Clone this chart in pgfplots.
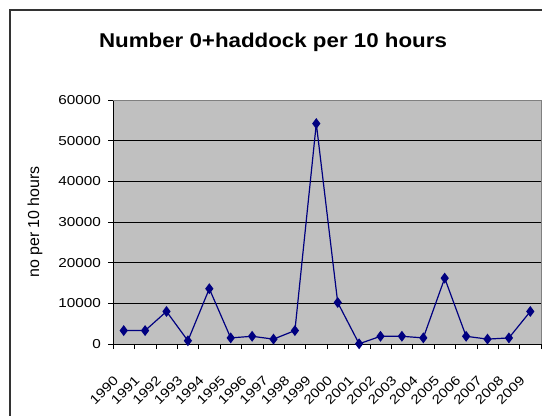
\documentclass[border=0pt]{standalone}
\usepackage{pgfplots}
\pgfplotsset{compat=1.18}
\usepackage{fontspec}
\setmainfont{Liberation Sans}
\definecolor{plotgray}{RGB}{192,192,192}
\definecolor{navyline}{RGB}{0,0,128}
\newcommand{\wx}[1]{\scalebox{1.18}[1]{#1}}
\pgfplotstableread{
x year value
0 1990 3300
1 1991 3300
2 1992 8000
3 1993 800
4 1994 13600
5 1995 1500
6 1996 1900
7 1997 1200
8 1998 3300
9 1999 54200
10 2000 10200
11 2001 50
12 2002 1900
13 2003 1900
14 2004 1500
15 2005 16200
16 2006 1900
17 2007 1200
18 2008 1500
19 2009 8000
}\datatable
\begin{document}
\begin{tikzpicture}[x=1bp,y=1bp]
\useasboundingbox (0,0) rectangle (542,415);
\clip (0,0) rectangle (542,415);
\fill[white] (0,0) rectangle (542,415);
\draw[line width=1.2bp, black!80] (10,-10) rectangle (570,405);
\node[font=\bfseries\fontsize{20}{24}\selectfont] at (273,373) {\scalebox{1.12}[1]{Number 0+haddock per 10 hours}};
\node[rotate=90, font=\fontsize{16}{19}\selectfont] at (35,193) {no per 10 hours};
\begin{axis}[
  at={(113bp,71bp)}, anchor=south west, scale only axis,
  width=428bp, height=244bp,
  xmin=-0.5, xmax=19.5, ymin=0, ymax=60000,
  axis background/.style={fill=plotgray},
  axis x line*=bottom, axis y line*=left,
  axis line style={black, line width=0.8bp},
  ymajorgrids, major grid style={black, line width=0.6bp},
  ytick={0,10000,...,60000},
  scaled y ticks=false,
  /pgf/number format/set thousands separator={},
  /pgf/number format/assume math mode=true,
  tick align=outside, tick pos=left,
  major tick length=5bp, minor tick length=5bp,
  tick style={black, line width=0.6bp},
  xtick={0,...,19},
  xticklabels={\wx{1990},\wx{1991},\wx{1992},\wx{1993},\wx{1994},\wx{1995},\wx{1996},\wx{1997},\wx{1998},\wx{1999},\wx{2000},\wx{2001},\wx{2002},\wx{2003},\wx{2004},\wx{2005},\wx{2006},\wx{2007},\wx{2008},\wx{2009}},
  major x tick style={draw=none},
  minor xtick={-0.5,0.5,...,19.5},
  ticklabel style={font=\fontsize{13}{15}\selectfont},
  xticklabel style={xshift=-11bp, yshift=-26bp, rotate=45, anchor=north east, inner sep=0pt},
  yticklabel={\wx{\pgfmathprintnumber{\tick}}},
  yticklabel style={anchor=east, inner sep=0pt, xshift=-7bp},
  clip=false,
]
\addplot[color=navyline, line width=1.2bp, mark=diamond*, mark size=4.5bp, mark options={fill=navyline, draw=navyline}] table[x=x, y=value] {\datatable};
\draw[gray, line width=0.8bp] (rel axis cs:0,1) -- (rel axis cs:1,1) -- (rel axis cs:1,0);
\end{axis}
\end{tikzpicture}
\end{document}
